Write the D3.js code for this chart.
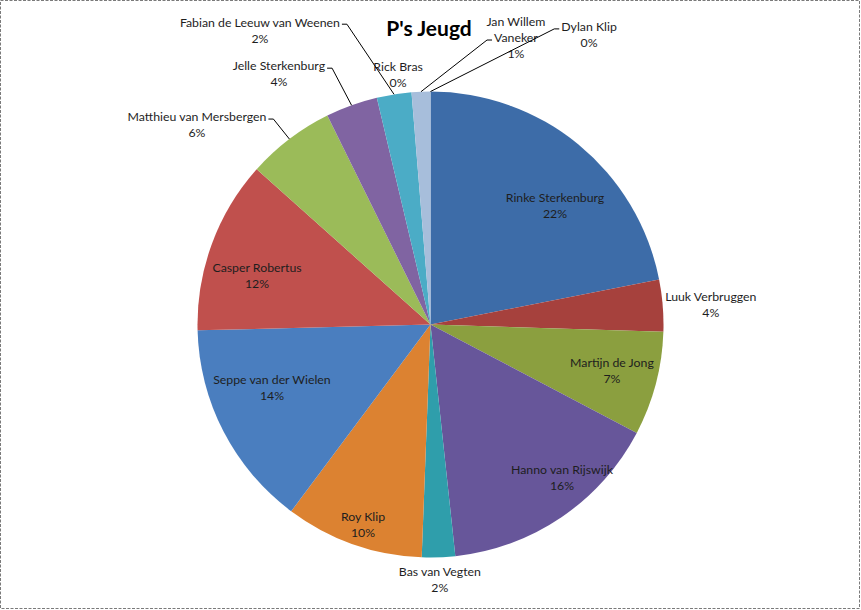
<!DOCTYPE html>
<html>
<head>
<meta charset="utf-8">
<script src="https://cdn.jsdelivr.net/npm/d3@7"></script>
<style>
  body { margin: 0; background: #fff; }
  svg { display: block; }
  text { font-family: Lato, "Open Sans", sans-serif; fill: #1e1e1e; }
</style>
</head>
<body>
<div id="chart"></div>
<script>
const chartTitle = "P's Jeugd"

const players = [
    "Rinke Sterkenburg", "Luuk Verbruggen", "Martijn de Jong", "Hanno van Rijswijk",
    "Bas van Vegten", "Roy Klip", "Seppe van der Wielen", "Casper Robertus",
    "Matthieu van Mersbergen", "Jelle Sterkenburg", "Fabian de Leeuw van Weenen",
    "Rick Bras", "Jan Willem Vaneker", "Dylan Klip"
]

const shares = [21.9, 3.6, 7.2, 15.6, 2.3, 9.6, 14.4, 12.0, 6.1, 3.6, 2.4, 0, 1.3, 0]

const sliceColors = [
    "#3d6ca8", "#a6413d", "#8b9f3f", "#67569a", "#2f9eab", "#dc8231",
    "#4a7ebf", "#c0504d", "#9bbb59", "#8064a2", "#4bacc6", "#f79646",
    "#a7bedb", "#d99795"
]

// where each data label sits: angle (deg, clockwise from top) and distance in radii
const labelSpots = {
    "Rinke Sterkenburg":          {a: 46.4,  f: 0.738},
    "Luuk Verbruggen":            {a: 86.0,  f: 1.206},
    "Martijn de Jong":            {a: 104.4, f: 0.804},
    "Hanno van Rijswijk":         {a: 139.4, f: 0.867},
    "Bas van Vegten":             {a: 177.9, f: 1.098},
    "Roy Klip":                   {a: 198.6, f: 0.908},
    "Seppe van der Wielen":       {a: 248.2, f: 0.733},
    "Casper Robertus":            {a: 285.6, f: 0.773},
    "Matthieu van Mersbergen":    {a: 310.5, f: 1.318, leader: 0},
    "Jelle Sterkenburg":          {a: 328.8, f: 1.256, leader: 0},
    "Fabian de Leeuw van Weenen": {a: 329.9, f: 1.46,  leader: 0},
    "Rick Bras":                  {a: 352.6, f: 1.08},
    "Jan Willem Vaneker":         {a: 16.6,  f: 1.283, leader: 1, lines: ["Jan Willem", "Vaneker"]},
    "Dylan Klip":                 {a: 28.7,  f: 1.417, leader: 0}
}

const width = 861
const height = 610
const cx = 430.5
const cy = 324.5
const radius = 233
const lineGap = 16

const svg = d3.select("#chart")
    .append("svg")
    .attr("width", width)
    .attr("height", height)

// dotted frame round the whole chart area
svg.append("rect")
    .attr("x", 0.5).attr("y", 0.5)
    .attr("width", 859).attr("height", 608)
    .attr("fill", "none")
    .attr("stroke", "#7a7a7a")
    .attr("stroke-dasharray", "3,1.5")

const total = d3.sum(shares)
const pct = d3.format(".0%")

const slices = d3.pie().sort(null).value(d => d)(shares)
    .map((s, i) => ({...s, name: players[i], color: sliceColors[i]}))

const arc = d3.arc().innerRadius(0).outerRadius(radius)

const pieG = svg.append("g").attr("transform", `translate(${cx},${cy})`)

pieG.selectAll("path")
    .data(slices)
    .enter().append("path")
    .attr("d", arc)
    .attr("fill", d => d.color)

function polar(angleRad, dist){
    return [Math.sin(angleRad) * dist, -Math.cos(angleRad) * dist]
}

const labelG = pieG.append("g")

slices.forEach(s => {
    const spot = labelSpots[s.name]
    const lines = (spot.lines || [s.name]).concat([pct(s.value / total)])
    const [lx, ly] = polar(spot.a * Math.PI / 180, spot.f * radius)
    const top = ly - (lines.length - 1) * lineGap / 2

    const t = labelG.append("text")
        .attr("text-anchor", "middle")
        .attr("font-size", 12.3)
    lines.forEach((ln, k) => {
        t.append("tspan")
            .attr("x", lx)
            .attr("y", top + k * lineGap)
            .attr("dy", "0.35em")
            .text(ln)
    })

    if (spot.leader === undefined) return

    const mid = (s.startAngle + s.endAngle) / 2
    const [tx, ty] = polar(mid, radius)
    const lineW = t.selectAll("tspan").nodes()[spot.leader].getComputedTextLength()
    const attachY = top + spot.leader * lineGap + 2
    const side = tx > lx ? 1 : -1
    const startX = lx + side * (lineW / 2 + 2)

    labelG.append("path")
        .attr("d", d3.line()([[startX, attachY], [startX + side * 5, attachY], [tx, ty]]))
        .attr("fill", "none")
        .attr("stroke", "#000")
        .attr("stroke-width", 1)
})

svg.append("text")
    .attr("x", 429)
    .attr("y", 36)
    .attr("text-anchor", "middle")
    .attr("font-size", 21)
    .attr("font-weight", "bold")
    .style("fill", "#000")
    .text(chartTitle)
</script>
</body>
</html>
